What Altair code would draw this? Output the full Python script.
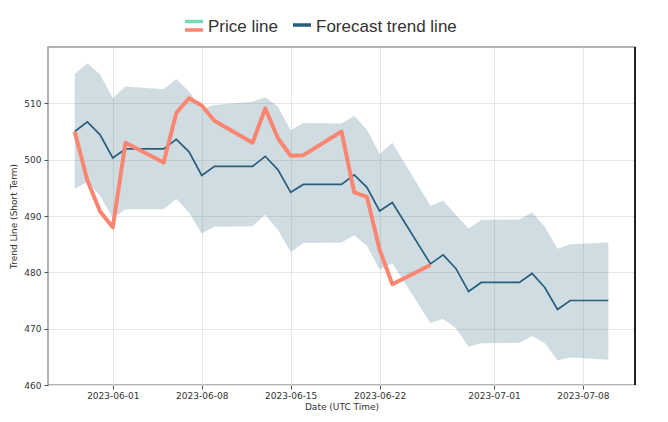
import altair as alt
import pandas as pd

# ---- data ----
trend_dates = ["2023-05-29", "2023-05-30", "2023-05-31", "2023-06-01", "2023-06-02",
               "2023-06-05", "2023-06-06", "2023-06-07", "2023-06-08", "2023-06-09",
               "2023-06-12", "2023-06-13", "2023-06-14", "2023-06-15", "2023-06-16",
               "2023-06-19", "2023-06-20", "2023-06-21", "2023-06-22", "2023-06-23",
               "2023-06-26", "2023-06-27", "2023-06-28", "2023-06-29", "2023-06-30",
               "2023-07-03", "2023-07-04", "2023-07-05", "2023-07-06", "2023-07-07",
               "2023-07-10"]
trend_values = [505.0, 506.7, 504.4, 500.3, 501.9,
                501.9, 503.6, 501.4, 497.2, 498.8,
                498.8, 500.6, 498.2, 494.2, 495.6,
                495.6, 497.3, 495.1, 490.9, 492.4,
                481.5, 483.1, 480.7, 476.6, 478.2,
                478.2, 479.8, 477.3, 473.4, 475.0,
                475.0]
upper_values = [515.2, 517.1, 515.1, 510.9, 513.0,
                512.5, 514.3, 512.1, 509.0, 509.7,
                510.3, 511.1, 509.4, 505.2, 506.5,
                506.4, 507.8, 505.3, 501.0, 503.0,
                491.8, 492.7, 490.2, 487.8, 489.3,
                489.4, 490.6, 488.1, 484.2, 485.0,
                485.3]
lower_values = [494.8, 496.1, 493.6, 489.6, 491.2,
                491.2, 493.0, 490.6, 486.9, 488.1,
                488.2, 490.2, 487.5, 483.6, 485.2,
                485.3, 486.6, 484.7, 480.5, 481.6,
                471.0, 471.7, 470.1, 466.8, 467.4,
                467.5, 468.7, 467.4, 464.4, 464.9,
                464.5]
price_dates = ["2023-05-29", "2023-05-30", "2023-05-31", "2023-06-01", "2023-06-02",
               "2023-06-05", "2023-06-06", "2023-06-07", "2023-06-08", "2023-06-09",
               "2023-06-12", "2023-06-13", "2023-06-14", "2023-06-15", "2023-06-16",
               "2023-06-19", "2023-06-20", "2023-06-21", "2023-06-22", "2023-06-23",
               "2023-06-26"]
price_values = [505.0, 496.3, 490.8, 488.0, 503.0,
                499.5, 508.3, 510.9, 509.6, 506.9,
                503.0, 509.1, 503.8, 500.7, 500.8,
                505.0, 494.2, 493.4, 484.0, 477.9,
                481.3]
y_ticks = [460, 470, 480, 490, 500, 510]
x_tick_dates = ["2023-06-01", "2023-06-08", "2023-06-15", "2023-06-22", "2023-07-01", "2023-07-08"]
legend_labels = ["Price line", "Forecast trend line"]

trend_df = pd.DataFrame({"date": trend_dates, "trend": trend_values,
                         "upper": upper_values, "lower": lower_values})
price_df = pd.DataFrame({"date": price_dates, "price": price_values})

W, H = 587, 338
PRICE_COLOR = "#fa8570"
MINT_COLOR = "#6fdcb8"
TREND_COLOR = "#2a5d7c"
TEXT_COLOR = "#333333"


def dt(s, h=0, m=0):
    y, mo, d = (int(p) for p in s.split("-"))
    return alt.DateTime(year=y, month=mo, date=d, hours=h, minutes=m, utc=True)


x_scale = alt.Scale(type="utc", domain=[dt("2023-05-26", 21, 36), dt("2023-07-12", 2, 24)])
x_axis = alt.Axis(values=[dt(s) for s in x_tick_dates], format="%Y-%m-%d",
                  title="Date (UTC Time)", titlePadding=2, labelPadding=2)
y_scale = alt.Scale(domain=[460, 520], nice=False, zero=False)
y_axis = alt.Axis(values=y_ticks, title="Trend Line (Short Term)", titlePadding=5,
                  labelPadding=3)

band = alt.Chart(trend_df).mark_area(color="#5b8aa0", opacity=0.29).encode(
    x=alt.X("date:T", scale=x_scale, axis=x_axis),
    y=alt.Y("lower:Q", scale=y_scale, axis=y_axis),
    y2="upper:Q",
)
trend = alt.Chart(trend_df).mark_line(color=TREND_COLOR, strokeWidth=1.7).encode(
    x=alt.X("date:T", scale=x_scale, axis=x_axis),
    y=alt.Y("trend:Q", scale=y_scale, axis=y_axis),
)
price = alt.Chart(price_df).mark_line(color=PRICE_COLOR, strokeWidth=4,
                                      strokeJoin="round").encode(
    x=alt.X("date:T", scale=x_scale, axis=x_axis),
    y=alt.Y("price:Q", scale=y_scale, axis=y_axis),
)

one = pd.DataFrame({"k": [0]})
right_spine = alt.Chart(one).mark_rule(color="#222222", strokeWidth=2).encode(
    x=alt.value(W), y=alt.value(0), y2=alt.value(H))

# legend (drawn above the plot area)
leg_mint = alt.Chart(one).mark_rule(color=MINT_COLOR, strokeWidth=3.5).encode(
    x=alt.value(137), x2=alt.value(155), y=alt.value(-25.5))
leg_salmon = alt.Chart(one).mark_rule(color=PRICE_COLOR, strokeWidth=3.5).encode(
    x=alt.value(137), x2=alt.value(155), y=alt.value(-17))
leg_blue = alt.Chart(one).mark_rule(color=TREND_COLOR, strokeWidth=3.5).encode(
    x=alt.value(245), x2=alt.value(263), y=alt.value(-22))
leg_text1 = alt.Chart(pd.DataFrame({"label": [legend_labels[0]]})).mark_text(
    align="left", baseline="alphabetic", font="Liberation Sans", fontSize=17,
    color=TEXT_COLOR).encode(x=alt.value(160), y=alt.value(-15.5), text="label:N")
leg_text2 = alt.Chart(pd.DataFrame({"label": [legend_labels[1]]})).mark_text(
    align="left", baseline="alphabetic", font="Liberation Sans", fontSize=17,
    color=TEXT_COLOR).encode(x=alt.value(268), y=alt.value(-15.5), text="label:N")

chart = alt.layer(
    band, trend, price, right_spine,
    leg_mint, leg_salmon, leg_blue, leg_text1, leg_text2,
).properties(
    width=W, height=H,
    background="white",
    autosize=alt.AutoSizeParams(type="none"),
    padding={"left": 40, "top": 39, "right": 15, "bottom": 28},
).configure_view(
    stroke="#9a9a9a", strokeWidth=1.5,
).configure_axis(
    domain=False,
    grid=True, gridColor="#e6e6e6", gridWidth=1,
    tickColor="#555555", tickSize=4, tickWidth=1,
    labelFont="DejaVu Sans", labelFontSize=9, labelColor=TEXT_COLOR,
    titleFont="DejaVu Sans", titleFontSize=9, titleFontWeight="normal",
    titleColor=TEXT_COLOR,
)

chart.save("out.html", embed_options={"renderer": "svg", "actions": False})
